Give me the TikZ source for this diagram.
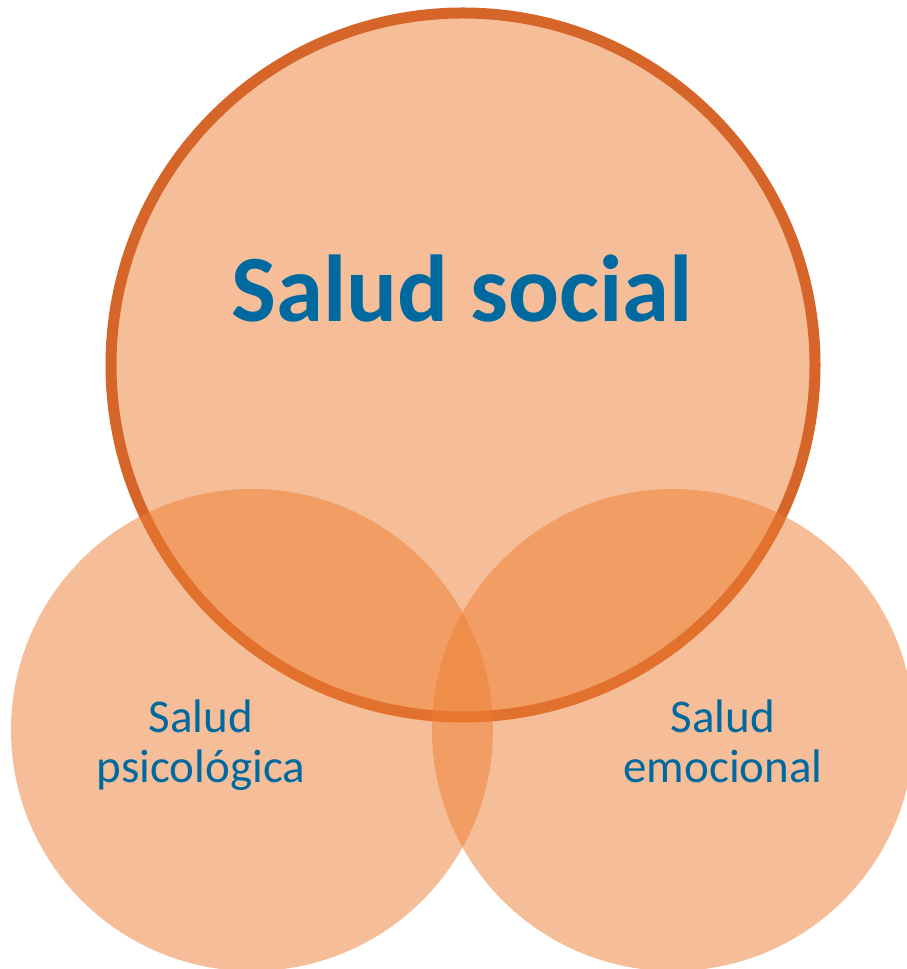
\documentclass[tikz,border=0pt]{standalone}
\usepackage{fontspec}
\setmainfont{Carlito}
\definecolor{fillor}{HTML}{ED7D31}
\definecolor{ringor}{HTML}{D6652A}
\definecolor{txtblue}{HTML}{006AA0}
\tikzset{
  bubble/.style={fill=fillor,fill opacity=0.5,draw=none},
  bigtxt/.style={text=txtblue,font=\fontsize{95}{100}\selectfont\bfseries,anchor=base,inner sep=0pt},
  smalltxt/.style={text=txtblue,font=\fontsize{47}{52}\selectfont,anchor=base,inner sep=0pt}
}
\begin{document}
\begin{tikzpicture}[x=1pt,y=1pt]
\useasboundingbox (0,0) rectangle (907,969);
% big circle
\fill[bubble] (463,604) circle[radius=352];
\draw[ringor,line width=11pt] (463,604) circle[radius=352];
% small circles
\fill[bubble] (252,239) circle[radius=241];
\fill[bubble] (673,239) circle[radius=241];
% texts
\node[bigtxt] (social) at (462,647) {Salud social};
\node[smalltxt] (psi1) at (201,236) {Salud};
\node[smalltxt] (psi2) at (201,186) {psicológica};
\node[smalltxt] (emo1) at (723,236) {Salud};
\node[smalltxt] (emo2) at (723,186) {emocional};
\end{tikzpicture}
\end{document}
